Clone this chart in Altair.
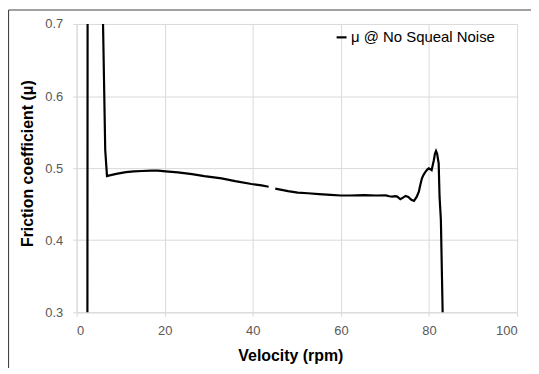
import altair as alt
import pandas as pd

# Segment 1 (before the small gap near 44 rpm)
x1 = [2.45, 2.5, 4.0, 5.9, 6.0, 6.5, 6.9, 7.5, 9.0, 11.2, 13.0, 14.9, 17.0, 18.5,
      20.2, 23.0, 26.2, 29.0, 32.9, 36.0, 39.7, 42.0, 43.6]
y1 = [0.27, 0.75, 0.95, 0.75, 0.70, 0.525, 0.489, 0.490, 0.492, 0.4945, 0.4955,
      0.496, 0.4965, 0.4965, 0.4955, 0.494, 0.4917, 0.489, 0.4858, 0.482, 0.478,
      0.476, 0.4742]

# Segment 2 (after the gap)
x2 = [45.1, 48.0, 50.2, 52.5, 55.0, 57.7, 60.0, 62.0, 65.3, 68.0, 70.2, 71.0, 71.7,
      72.3, 72.8, 73.5, 74.1, 74.7, 75.3, 76.0, 76.6, 77.2, 77.7, 78.0, 78.4, 78.8,
      79.2, 79.6, 79.95, 80.3, 80.6, 81.1, 81.35, 81.6, 81.85, 82.05, 82.2, 82.4,
      82.7, 83.1, 83.2]
y2 = [0.4715, 0.468, 0.466, 0.4651, 0.464, 0.4628, 0.462, 0.462, 0.4625, 0.462,
      0.4622, 0.461, 0.4604, 0.4612, 0.4605, 0.4568, 0.459, 0.4614, 0.460, 0.456,
      0.4545, 0.460, 0.4674, 0.476, 0.4858, 0.491, 0.4949, 0.498, 0.4996, 0.4985,
      0.4972, 0.511, 0.520, 0.5239, 0.520, 0.512, 0.5065, 0.4604, 0.4283, 0.30, 0.27]

series_name = "μ @ No Squeal Noise"
x_ticks = [0, 20, 40, 60, 80, 100]
y_ticks = [0.3, 0.4, 0.5, 0.6, 0.7]

df = pd.DataFrame({
    "v": x1 + x2,
    "mu": y1 + y2,
    "seg": [1] * len(x1) + [2] * len(x2),
    "series": [series_name] * (len(x1) + len(x2)),
})

FONT = "Liberation Sans"
GRID = "#d9d9d9"

line = alt.Chart(df).mark_line(strokeWidth=2.2, clip=True).encode(
    x=alt.X("v:Q", scale=alt.Scale(domain=[0, 100], nice=False),
            axis=alt.Axis(values=x_ticks, title="Velocity (rpm)", grid=True,
                          titleX=215, titleY=48, titleBaseline="alphabetic")),
    y=alt.Y("mu:Q", scale=alt.Scale(domain=[0.3, 0.7], nice=False, zero=False),
            axis=alt.Axis(values=y_ticks, format=".1f", title="Friction coefficient (μ)",
                          grid=True, titleX=-44, titleY=140, titleAngle=-90,
                          titleBaseline="alphabetic", labelPadding=10)),
    detail="seg:N",
    color=alt.Color("series:N", scale=alt.Scale(range=["black"]),
                    legend=alt.Legend(title=None, orient="none", legendX=259, legendY=6,
                                      symbolType="stroke", symbolSize=100,
                                      symbolStrokeWidth=2.2, labelOffset=2,
                                      labelFontSize=15, labelFont=FONT,
                                      labelColor="#000000", padding=0)),
)

frame_data = alt.Data(values=[{"k": 1}])
left_edge = alt.Chart(frame_data).mark_rule(color="#444444", strokeWidth=1.2).encode(
    x=alt.value(-68.5), y=alt.value(-14), y2=alt.value(400))
top_edge = alt.Chart(frame_data).mark_rule(color="#444444", strokeWidth=1.2).encode(
    x=alt.value(-68.5), x2=alt.value(600), y=alt.value(-14))

chart = alt.layer(line, left_edge, top_edge).properties(
    width=443, height=290,
    autosize=alt.AutoSizeParams(type="none"),
    padding={"left": 69, "top": 15, "right": 14, "bottom": 55},
).configure_view(stroke=None).configure_axis(
    labelFont=FONT, labelFontSize=13, labelColor="#595959",
    titleFont=FONT, titleFontSize=16, titleFontWeight="bold", titleColor="#000000",
    gridColor=GRID, domainColor=GRID, tickColor=GRID, tickSize=4,
).configure_axisX(labelPadding=8)

chart.save("out.html", embed_options={"renderer": "svg", "actions": False})
